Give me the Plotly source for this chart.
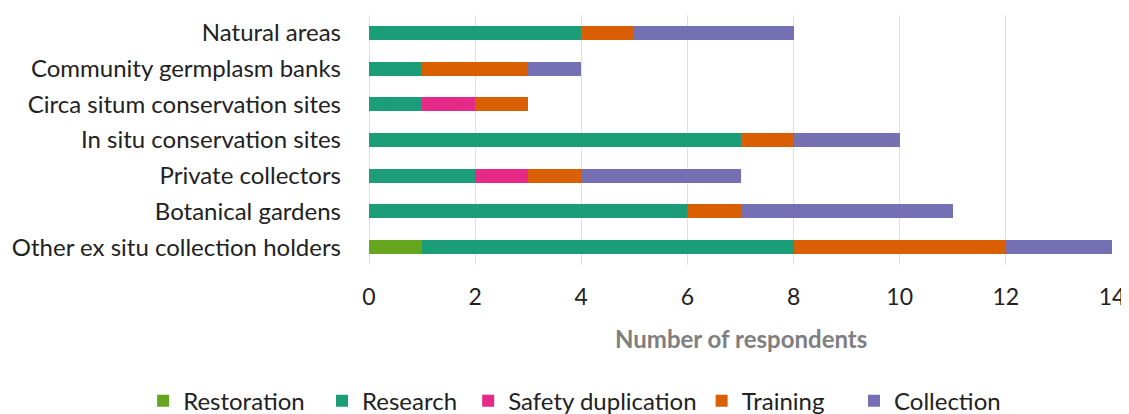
import plotly.graph_objects as go

categories = ["Natural areas", "Community germplasm banks", "Circa situm conservation sites",
              "In situ conservation sites", "Private collectors", "Botanical gardens",
              "Other ex situ collection holders"]
restoration = [0, 0, 0, 0, 0, 0, 1]
research = [4, 1, 1, 7, 2, 6, 7]
safety = [0, 0, 1, 0, 1, 0, 0]
training = [1, 2, 1, 1, 1, 1, 4]
collection = [3, 1, 0, 2, 3, 4, 2]
tick_vals = [0, 2, 4, 6, 8, 10, 12, 14]

series = [("Restoration", restoration, "#66a61e", 2),
          ("Research", research, "#1b9e77", 1),
          ("Safety duplication", safety, "#e7298a", 0),
          ("Training", training, "#d95f02", 4),
          ("Collection", collection, "#7570b3", 0)]

FONT = "Lato, Open Sans, sans-serif"
fig = go.Figure()
for name, vals, col, pad in series:
    fig.add_trace(go.Bar(y=categories, x=vals, name=name + "&nbsp;" * pad, orientation="h",
                         marker=dict(color=col, line=dict(width=0)),
                         hovertemplate=name + ": %{x}<extra>%{y}</extra>"))

# page body has an 8px margin, so the figure is sized 1121x406
fig.update_layout(
    barmode="stack", bargap=0.61,
    width=1121, height=406,
    margin=dict(l=361, r=17, t=7, b=149, autoexpand=False),
    plot_bgcolor="white", paper_bgcolor="white",
    font=dict(family=FONT, size=24, color="#222222"),
    xaxis=dict(range=[0, 14], tickvals=tick_vals, showgrid=True, gridcolor="#e0e0e0",
               gridwidth=1, zeroline=True, zerolinecolor="#e0e0e0", zerolinewidth=1,
               showline=False, ticks="", automargin=False, ticklabelstandoff=16,
               tickfont=dict(size=23, color="#222222")),
    yaxis=dict(autorange="reversed", showgrid=False, ticks="", automargin=False,
               ticklabelstandoff=27, tickfont=dict(size=24, color="#222222")),
    legend=dict(orientation="h", xref="paper", yref="paper", x=-0.304, y=-0.545,
                xanchor="left", yanchor="middle", traceorder="normal",
                font=dict(size=24, color="#222222"), itemwidth=30),
    annotations=[dict(text="<b>Number of respondents</b>", xref="paper", yref="paper",
                      x=0.5, y=-0.292, xanchor="center", yanchor="middle", showarrow=False,
                      font=dict(family=FONT, size=24, color="#7f7f7f"))],
)

fig.write_html("out.html")
